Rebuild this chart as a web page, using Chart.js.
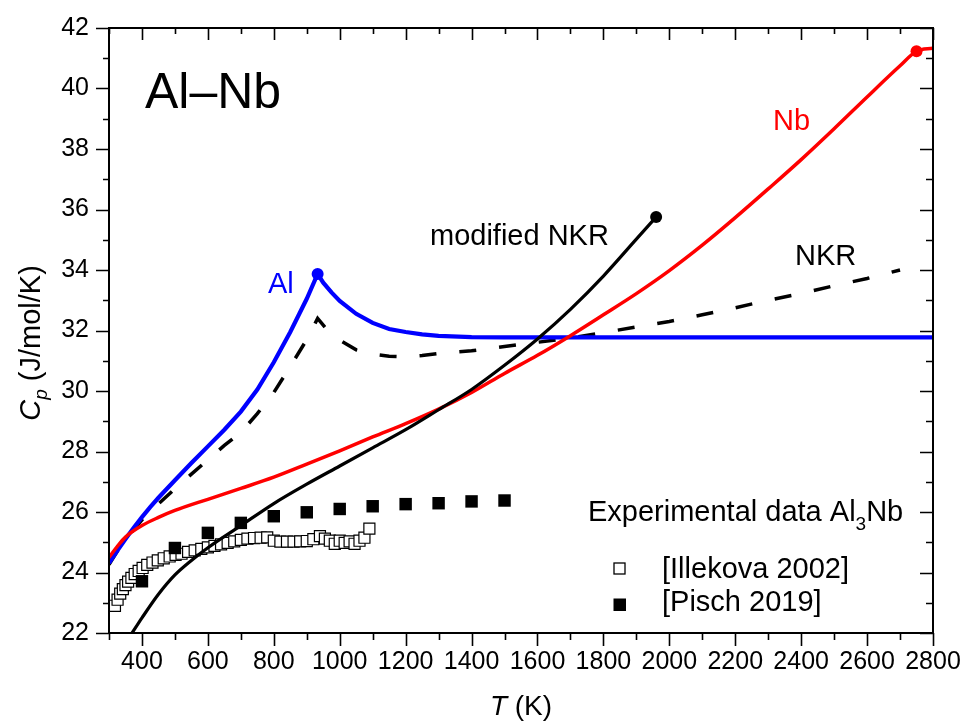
<!DOCTYPE html>
<html>
<head>
<meta charset="utf-8">
<script src="https://cdn.jsdelivr.net/npm/chart.js@4.4.0/dist/chart.umd.min.js"></script>
<style>
  html, body { margin: 0; padding: 0; background: #fff; }
</style>
</head>
<body>
<canvas id="cp" width="965" height="725"></canvas>
<script>
// Nb (red)
const nbT  = [300, 325, 350, 400, 450, 500, 600, 700, 800, 900, 1000, 1100, 1200, 1300, 1400, 1500, 1600, 1700, 1800, 1900, 2000, 2100, 2200, 2300, 2400, 2500, 2600, 2700, 2750, 2800];
const nbCp = [24.50, 24.86, 25.17, 25.55, 25.82, 26.05, 26.42, 26.78, 27.15, 27.58, 28.02, 28.48, 28.92, 29.40, 29.95, 30.58, 31.18, 31.83, 32.52, 33.22, 33.98, 34.82, 35.73, 36.68, 37.65, 38.67, 39.72, 40.75, 41.23, 41.33];

// Al (blue)
const alT  = [300, 325, 350, 375, 400, 425, 450, 500, 550, 600, 650, 700, 750, 800, 850, 900, 933, 950, 975, 1000, 1050, 1100, 1150, 1200, 1250, 1300, 1400, 1500, 2000, 2800];
const alCp = [24.31, 24.72, 25.11, 25.48, 25.83, 26.16, 26.47, 27.05, 27.62, 28.17, 28.72, 29.32, 30.05, 30.95, 31.95, 33.05, 33.87, 33.58, 33.26, 32.98, 32.55, 32.25, 32.05, 31.95, 31.87, 31.82, 31.78, 31.77, 31.77, 31.77];

// NKR (dashed)
const nkrT  = [300, 325, 350, 375, 400, 450, 500, 550, 600, 650, 700, 750, 800, 850, 900, 933, 960, 1000, 1050, 1100, 1150, 1200, 1250, 1300, 1400, 1500, 1600, 1700, 1800, 1900, 2000, 2100, 2200, 2300, 2400, 2500, 2600, 2700];
const nkrCp = [24.26, 24.70, 25.08, 25.42, 25.74, 26.27, 26.77, 27.25, 27.73, 28.20, 28.63, 29.25, 29.95, 30.81, 31.70, 32.40, 32.05, 31.68, 31.36, 31.22, 31.15, 31.13, 31.17, 31.24, 31.33, 31.47, 31.61, 31.75, 31.93, 32.12, 32.30, 32.52, 32.75, 33.00, 33.22, 33.48, 33.72, 34.00];

// modified NKR (solid black)
const modT  = [370, 400, 450, 500, 550, 600, 700, 800, 900, 1000, 1100, 1200, 1300, 1400, 1500, 1600, 1700, 1800, 1900, 1960];
const modCp = [22.00, 22.50, 23.28, 23.92, 24.40, 24.82, 25.55, 26.28, 26.92, 27.52, 28.12, 28.72, 29.38, 30.05, 30.85, 31.72, 32.70, 33.80, 35.02, 35.75];

// Experimental data Al3Nb
const illT  = [318, 326, 334, 342, 350, 358, 368, 378, 390, 402, 416, 432, 448, 466, 484, 502, 520, 540, 560, 580, 600, 620, 640, 660, 680, 700, 720, 740, 760, 780, 800, 820, 840, 860, 880, 900, 920, 940, 955, 970, 985, 1000, 1015, 1030, 1045, 1060, 1075, 1090];
const illCp = [22.90, 23.10, 23.30, 23.45, 23.58, 23.70, 23.82, 23.95, 24.05, 24.15, 24.25, 24.33, 24.40, 24.47, 24.53, 24.58, 24.62, 24.68, 24.73, 24.78, 24.83, 24.88, 24.93, 24.98, 25.03, 25.08, 25.12, 25.14, 25.15, 25.16, 25.05, 25.02, 25.02, 25.02, 25.03, 25.04, 25.10, 25.20, 25.12, 25.05, 24.95, 25.05, 24.98, 25.03, 24.95, 25.05, 25.15, 25.45];
const pischT  = [400, 500, 600, 700, 800, 900, 1000, 1100, 1200, 1300, 1400, 1500];
const pischCp = [23.71, 24.81, 25.31, 25.64, 25.86, 25.99, 26.10, 26.19, 26.26, 26.29, 26.35, 26.38];

// tick labels
const xTicks = [400, 600, 800, 1000, 1200, 1400, 1600, 1800, 2000, 2200, 2400, 2600, 2800];
const yTicks = [22, 24, 26, 28, 30, 32, 34, 36, 38, 40, 42];

// temperatures that get a round marker (melting points)
const meltT = [933, 1960, 2750];

const FONT = '"Liberation Sans", Arial, sans-serif';

const toXY = (xs, ys) => xs.map((v, i) => ({ x: v, y: ys[i] }));
const meltDot = c => (c.raw && meltT.includes(c.raw.x)) ? 6 : 0;

// frame, ticks on all four sides, text labels
const decor = {
    id: 'decor',
    afterDraw(chart) {
        const { ctx, chartArea: a, scales: { x, y } } = chart;
        ctx.save();
        ctx.strokeStyle = '#000';
        ctx.lineWidth = 2;
        ctx.strokeRect(a.left, a.top, a.right - a.left, a.bottom - a.top);

        ctx.lineWidth = 1.6;
        ctx.beginPath();
        for (let t = x.min; t <= x.max; t += 100) {
            const px = Math.round(x.getPixelForValue(t)) + 0.5;
            const major = t % 200 === 0;
            ctx.moveTo(px, a.bottom);
            ctx.lineTo(px, a.bottom + (major ? 13 : 7));
            ctx.moveTo(px, a.top);
            ctx.lineTo(px, a.top + (major ? 12 : 6));
        }
        for (let v = y.min; v <= y.max; v += 1) {
            const py = Math.round(y.getPixelForValue(v)) + 0.5;
            const major = v % 2 === 0;
            ctx.moveTo(a.left, py);
            ctx.lineTo(a.left - (major ? 13 : 6), py);
            ctx.moveTo(a.right, py);
            ctx.lineTo(a.right - (major ? 13 : 7), py);
        }
        ctx.stroke();

        ctx.fillStyle = '#000';
        ctx.textBaseline = 'alphabetic';
        ctx.textAlign = 'left';

        ctx.font = '50px ' + FONT;
        ctx.fillText('Al\u2013Nb', 145, 108);

        ctx.font = '29px ' + FONT;
        ctx.fillStyle = '#0000ff';
        ctx.fillText('Al', 268, 293);
        ctx.fillStyle = '#ff0000';
        ctx.fillText('Nb', 773, 130);
        ctx.fillStyle = '#000';
        ctx.fillText('modified NKR', 430, 245);
        ctx.fillText('NKR', 795, 265);

        // legend
        let lx = 588;
        const head = 'Experimental data Al';
        ctx.fillText(head, lx, 521);
        lx += ctx.measureText(head).width;
        ctx.font = '19px ' + FONT;
        ctx.fillText('3', lx, 530);
        lx += ctx.measureText('3').width;
        ctx.font = '29px ' + FONT;
        ctx.fillText('Nb', lx, 521);
        ctx.fillText('[Illekova 2002]', 662, 578);
        ctx.fillText('[Pisch 2019]', 662, 611);

        ctx.lineWidth = 1.3;
        ctx.fillStyle = '#fff';
        ctx.fillRect(614, 563, 11, 11);
        ctx.strokeRect(614, 563, 11, 11);
        ctx.fillStyle = '#000';
        ctx.fillRect(613.5, 598.5, 12.5, 12.5);

        // axis titles
        ctx.font = 'italic 28px ' + FONT;
        const tW = ctx.measureText('T').width;
        ctx.font = '28px ' + FONT;
        const kW = ctx.measureText(' (K)').width;
        let sx = (a.left + a.right) / 2 - (tW + kW) / 2;
        ctx.font = 'italic 28px ' + FONT;
        ctx.fillText('T', sx, 715);
        ctx.font = '28px ' + FONT;
        ctx.fillText(' (K)', sx + tW, 715);

        ctx.translate(40, 343);
        ctx.rotate(-Math.PI / 2);
        ctx.font = 'italic 29px ' + FONT;
        const cW = ctx.measureText('C').width;
        ctx.font = 'italic 19px ' + FONT;
        const pW = ctx.measureText('p').width;
        ctx.font = '29px ' + FONT;
        const uW = ctx.measureText(' (J/mol/K)').width;
        sx = -(cW + pW + uW) / 2;
        ctx.font = 'italic 29px ' + FONT;
        ctx.fillText('C', sx, 0);
        ctx.font = 'italic 19px ' + FONT;
        ctx.fillText('p', sx + cW, 7);
        ctx.font = '29px ' + FONT;
        ctx.fillText(' (J/mol/K)', sx + cW + pW, 0);
        ctx.restore();
    }
};

new Chart(document.getElementById('cp').getContext('2d'), {
    type: 'line',
    data: {
        datasets: [
            {
                label: 'modified NKR',
                data: toXY(modT, modCp),
                borderColor: '#000',
                backgroundColor: '#000',
                borderWidth: 3.2,
                cubicInterpolationMode: 'monotone',
                pointRadius: meltDot,
                pointBorderWidth: 0,
                order: 1,
            },
            {
                label: 'Nb',
                data: toXY(nbT, nbCp),
                borderColor: '#ff0000',
                backgroundColor: '#ff0000',
                borderWidth: 3.5,
                cubicInterpolationMode: 'monotone',
                pointRadius: meltDot,
                pointBorderWidth: 0,
                order: 2,
            },
            {
                label: 'Al',
                data: toXY(alT, alCp),
                borderColor: '#0000ff',
                backgroundColor: '#0000ff',
                borderWidth: 4.2,
                tension: 0,
                pointRadius: meltDot,
                pointBorderWidth: 0,
                order: 3,
            },
            {
                label: 'NKR',
                data: toXY(nkrT, nkrCp),
                borderColor: '#000',
                borderWidth: 3.5,
                borderDash: [17, 23],
                tension: 0,
                pointRadius: 0,
                order: 4,
            },
            {
                type: 'scatter',
                label: 'Pisch 2019',
                data: toXY(pischT, pischCp),
                pointStyle: 'rect',
                pointRadius: 8.8,
                backgroundColor: '#000',
                borderColor: '#000',
                borderWidth: 0,
                order: 5,
            },
            {
                type: 'scatter',
                label: 'Illekova 2002',
                data: toXY(illT, illCp),
                pointStyle: 'rect',
                pointRadius: 7.8,
                backgroundColor: '#fff',
                borderColor: '#000',
                borderWidth: 1.2,
                order: 6,
            },
        ],
    },
    options: {
        responsive: false,
        animation: false,
        devicePixelRatio: 1,
        layout: { padding: { top: 28, right: 32, left: 0, bottom: 0 } },
        plugins: {
            legend: { display: false },
            tooltip: { enabled: false },
        },
        scales: {
            x: {
                type: 'linear',
                min: 300,
                max: 2800,
                grid: { display: false, drawTicks: false },
                border: { display: false },
                afterBuildTicks: s => { s.ticks = xTicks.map(v => ({ value: v })); },
                afterFit: s => { s.height = 92; s.paddingLeft = 0; s.paddingRight = 0; },
                ticks: {
                    color: '#000',
                    font: { family: FONT, size: 25 },
                    padding: 14,
                    maxRotation: 0,
                    autoSkip: false,
                    callback: v => String(v),
                },
            },
            y: {
                type: 'linear',
                min: 22,
                max: 42,
                grid: { display: false, drawTicks: false },
                border: { display: false },
                afterBuildTicks: s => { s.ticks = yTicks.map(v => ({ value: v })); },
                afterFit: s => { s.width = 109; s.paddingTop = 0; s.paddingBottom = 0; },
                ticks: {
                    color: '#000',
                    font: { family: FONT, size: 25 },
                    padding: 20,
                    autoSkip: false,
                    callback: v => String(v),
                },
            },
        },
    },
    plugins: [decor],
});
</script>
</body>
</html>
